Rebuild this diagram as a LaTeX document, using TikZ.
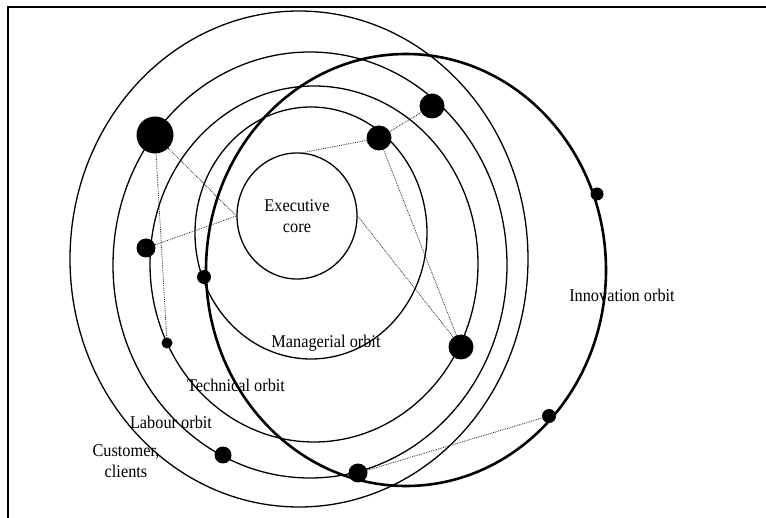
\documentclass[tikz,border=0pt]{standalone}
\usepackage{fontspec}
\setmainfont{Liberation Serif}
\usetikzlibrary{shapes.geometric}
\newcommand{\tallword}[1]{\scalebox{1}[1.1]{#1}}
\begin{document}
\begin{tikzpicture}[x=1pt,y=-1pt,
  orbit/.style={draw, ellipse, inner sep=0pt, line width=1.3pt},
  bigorbit/.style={draw, ellipse, inner sep=0pt, line width=2.6pt},
  planet/.style={circle, fill=black, inner sep=0pt},
  link/.style={line width=0.8pt, black!85, dash pattern=on 0.8pt off 1pt},
  lbl/.style={font=\fontsize{16.3}{21}\selectfont, inner sep=0pt}]
\useasboundingbox (0,0) rectangle (766,518);
% frame
\draw[line width=1.8pt] (8,518) -- (8,7) -- (766,7);

% orbits, outermost first
\node[orbit, minimum width=458pt, minimum height=496pt] (customer) at (299,259) {};
\node[orbit, minimum width=394pt, minimum height=426pt] (labour) at (310,265) {};
\node[orbit, minimum width=328pt, minimum height=356pt] (technical) at (314,264) {};
\node[orbit, minimum width=232pt, minimum height=252pt] (managerial) at (311,233) {};
\node[orbit, minimum width=120pt, minimum height=126pt, align=center, lbl] (core) at (297,216) {\tallword{Executive}\\\tallword{core}};
\node[bigorbit, minimum width=400pt, minimum height=432pt] (innovation) at (406,270) {};

% members placed on the orbits
\node[planet, minimum size=37pt] (d1) at (155,135) {};
\node[planet, minimum size=25pt] (d2) at (432,106) {};
\node[planet, minimum size=25pt] (d3) at (379,138) {};
\node[planet, minimum size=19pt] (d4) at (146,248) {};
\node[planet, minimum size=14pt] (d5) at (204,277) {};
\node[planet, minimum size=11pt] (d6) at (167,343) {};
\node[planet, minimum size=25pt] (d7) at (461,347) {};
\node[planet, minimum size=13pt] (d8) at (597,194) {};
\node[planet, minimum size=14pt] (d9) at (549,416) {};
\node[planet, minimum size=17pt] (d10) at (223,455) {};
\node[planet, minimum size=19pt] (d11) at (358,473) {};

% links between members
\draw[link] (d1) -- (d6);
\draw[link] (d1) -- (core.west);
\draw[link] (d4) -- (core.west);
\draw[link] (d3) -- (core.85);
\draw[link] (d3) -- (d2);
\draw[link] (d3) -- (d7);
\draw[link] (core.east) -- (d7);
\draw[link] (d11) -- (d9);

% orbit labels
\node[lbl] (lmanag) at (326,343) {\tallword{Managerial orbit}};
\node[lbl] (ltech) at (236,385) {\tallword{Technical orbit}};
\node[lbl] (llabour) at (171,422) {\tallword{Labour orbit}};
\node[lbl, align=center] (lcust) at (126,461) {\tallword{Customer,}\\\tallword{clients}};
\node[lbl] (linnov) at (622,295) {\tallword{Innovation orbit}};
\end{tikzpicture}
\end{document}
